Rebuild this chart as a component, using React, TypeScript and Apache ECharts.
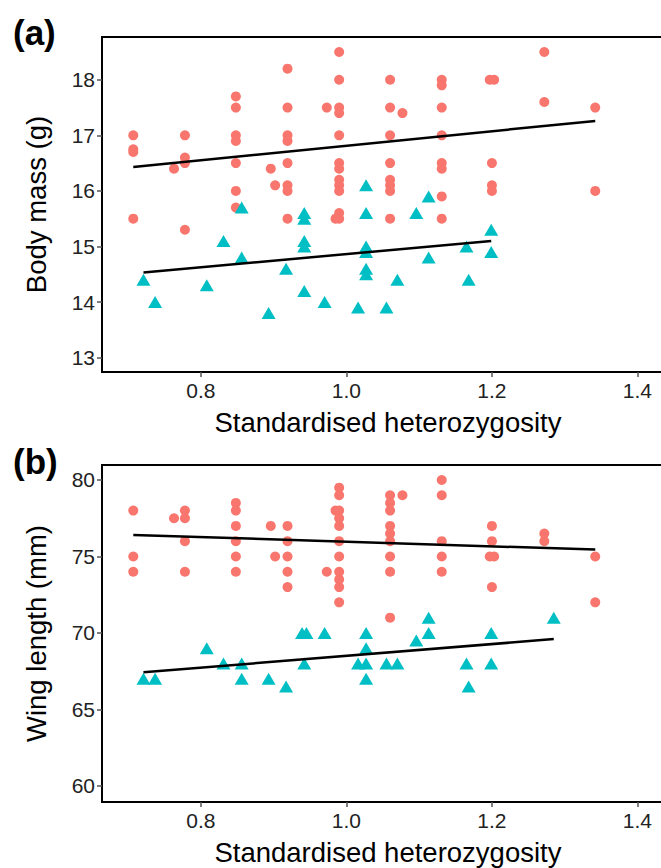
import React, { useEffect, useRef } from "react";
import * as echarts from "echarts";

// ---- data ----
const xTicks = [0.8, 1.0, 1.2, 1.4];
const massTicks = [13, 14, 15, 16, 17, 18];
const wingTicks = [60, 65, 70, 75, 80];

const massRed: number[][] = [
  [0.707, 17.0], [0.707, 16.75], [0.707, 16.7], [0.707, 15.5],
  [0.763, 16.4],
  [0.778, 17.0], [0.778, 16.6], [0.778, 16.5], [0.778, 15.3],
  [0.848, 17.7], [0.848, 17.5], [0.848, 17.0], [0.848, 16.9], [0.848, 16.5], [0.848, 16.0], [0.848, 15.7],
  [0.896, 16.4],
  [0.902, 16.1],
  [0.919, 18.2], [0.919, 17.5], [0.919, 17.0], [0.919, 16.9], [0.919, 16.5], [0.919, 16.1], [0.919, 16.0], [0.919, 15.5],
  [0.973, 17.5],
  [0.99, 18.5], [0.99, 18.0], [0.99, 17.5], [0.99, 17.4], [0.99, 17.0], [0.99, 16.5], [0.99, 16.4], [0.99, 16.2],
  [0.99, 16.1], [0.99, 16.0], [0.99, 15.6], [0.985, 15.5], [0.99, 15.5],
  [1.06, 18.0], [1.06, 17.5], [1.06, 17.0], [1.06, 16.5], [1.06, 16.2], [1.06, 16.1], [1.06, 16.0], [1.06, 15.5],
  [1.077, 17.4],
  [1.131, 18.0], [1.131, 17.9], [1.131, 17.5], [1.131, 17.0], [1.131, 16.5], [1.131, 16.4], [1.131, 15.9], [1.131, 15.5],
  [1.197, 18.0], [1.203, 18.0], [1.2, 16.5], [1.2, 16.1], [1.2, 16.0],
  [1.272, 18.5], [1.272, 17.6],
  [1.342, 17.5], [1.342, 16.0],
];

const massTeal: number[][] = [
  [0.721, 14.4], [0.737, 14.0], [0.808, 14.3], [0.831, 15.1], [0.856, 15.7], [0.856, 14.8], [0.893, 13.8], [0.917, 14.6],
  [0.942, 15.6], [0.942, 15.5], [0.942, 15.1], [0.942, 15.0], [0.942, 14.2],
  [0.97, 14.0], [1.016, 13.9],
  [1.027, 16.1], [1.027, 15.6], [1.027, 15.0], [1.027, 14.9], [1.027, 14.6], [1.027, 14.5],
  [1.055, 13.9], [1.07, 14.4], [1.096, 15.6], [1.113, 15.9], [1.113, 14.8], [1.165, 15.0], [1.168, 14.4],
  [1.199, 15.3], [1.199, 14.9],
];

const wingRed: number[][] = [
  [0.707, 78], [0.707, 75], [0.707, 74],
  [0.763, 77.5],
  [0.778, 78], [0.778, 77.5], [0.778, 76], [0.778, 74],
  [0.848, 78.5], [0.848, 78], [0.848, 77], [0.848, 76], [0.848, 75], [0.848, 74],
  [0.896, 77], [0.902, 75],
  [0.919, 77], [0.919, 76], [0.919, 75], [0.919, 74], [0.919, 73],
  [0.973, 74],
  [0.99, 79.5], [0.99, 79], [0.985, 78], [0.99, 78], [0.99, 77.5], [0.99, 77], [0.99, 76], [0.99, 75], [0.99, 74],
  [0.99, 73.5], [0.99, 73], [0.99, 72],
  [1.06, 79], [1.06, 78.5], [1.06, 78], [1.06, 77], [1.06, 76.5], [1.06, 76], [1.06, 75], [1.06, 74], [1.06, 71],
  [1.077, 79],
  [1.131, 80], [1.131, 79], [1.131, 76], [1.131, 75], [1.131, 74],
  [1.2, 77], [1.2, 76], [1.197, 75], [1.203, 75], [1.2, 73],
  [1.272, 76.5], [1.272, 76],
  [1.342, 75], [1.342, 72],
];

const wingTeal: number[][] = [
  [0.721, 67], [0.737, 67], [0.808, 69], [0.831, 68], [0.856, 68], [0.856, 67], [0.893, 67], [0.917, 66.5],
  [0.939, 70], [0.945, 70], [0.942, 68],
  [0.97, 70], [1.016, 68],
  [1.027, 70], [1.027, 69], [1.027, 68], [1.027, 67],
  [1.055, 68], [1.07, 68], [1.096, 69.5], [1.113, 71], [1.113, 70], [1.165, 68], [1.168, 66.5],
  [1.199, 70], [1.199, 68], [1.285, 71],
];

const massRedFit: number[][] = [[0.707, 16.43], [1.342, 17.26]];
const massTealFit: number[][] = [[0.721, 14.53], [1.199, 15.1]];
const wingRedFit: number[][] = [[0.707, 76.41], [1.342, 75.45]];
const wingTealFit: number[][] = [[0.721, 67.43], [1.285, 69.6]];

const RED = "#F8766D";
const TEAL = "#00BFC4";
const FONT = "Liberation Sans";

export default function App() {
  const ref = useRef<HTMLDivElement>(null);
  useEffect(() => {
    if (!ref.current) return;
    const chart = echarts.init(ref.current, null, { renderer: "svg" });
    const X_MIN = 0.664;
    const X_MAX = 1.45;
    const plotW = (X_MAX - X_MIN) * 727.5;

    const xAxis = (gi: number) => ({
      type: "value",
      gridIndex: gi,
      min: X_MIN,
      max: X_MAX,
      name: "Standardised heterozygosity",
      nameLocation: "middle",
      nameGap: 36,
      nameTextStyle: { fontFamily: FONT, fontSize: 27.5, color: "#000" },
      axisLine: { show: true, onZero: false, lineStyle: { color: "#000", width: 2 } },
      axisTick: { show: true, length: 5, lineStyle: { color: "#555", width: 1.5 }, customValues: xTicks },
      axisLabel: {
        customValues: xTicks,
        formatter: (v: number) => v.toFixed(1),
        fontFamily: FONT,
        fontSize: 21,
        color: "#222",
        margin: 8,
      },
      splitLine: { show: false },
    });

    const yAxis = (gi: number, min: number, max: number, ticks: number[], name: string) => ({
      type: "value",
      gridIndex: gi,
      min,
      max,
      name,
      nameLocation: "middle",
      nameGap: 52,
      nameTextStyle: { fontFamily: FONT, fontSize: 27.5, color: "#000" },
      axisLine: { show: true, onZero: false, lineStyle: { color: "#000", width: 2 } },
      axisTick: { show: true, length: 5, lineStyle: { color: "#555", width: 1.5 }, customValues: ticks },
      axisLabel: {
        customValues: ticks,
        fontFamily: FONT,
        fontSize: 21,
        color: "#222",
        margin: 7,
      },
      splitLine: { show: false },
    });

    const scatter = (data: number[][], gi: number, color: string, tri: boolean) => ({
      type: "scatter",
      xAxisIndex: gi,
      yAxisIndex: gi,
      data,
      symbol: tri ? "triangle" : "circle",
      symbolSize: tri ? [14, 12] : 10,
      itemStyle: { color, opacity: 1 },
      silent: true,
      z: 2,
    });
    const fit = (data: number[][], gi: number) => ({
      type: "line",
      xAxisIndex: gi,
      yAxisIndex: gi,
      data,
      symbol: "none",
      lineStyle: { color: "#000", width: 2.5 },
      silent: true,
      z: 3,
    });

    chart.setOption({
      animation: false,
      backgroundColor: "#fff",
      grid: [
        { left: 102, top: 37, width: plotW, height: 335, show: true, borderColor: "#000", borderWidth: 2 },
        { left: 102, top: 465, width: plotW, height: 337, show: true, borderColor: "#000", borderWidth: 2 },
      ],
      xAxis: [xAxis(0), xAxis(1)],
      yAxis: [
        yAxis(0, 12.74, 18.77, massTicks, "Body mass (g)"),
        yAxis(1, 58.95, 80.98, wingTicks, "Wing length (mm)"),
      ],
      series: [
        scatter(massRed, 0, RED, false),
        scatter(massTeal, 0, TEAL, true),
        fit(massRedFit, 0),
        fit(massTealFit, 0),
        scatter(wingRed, 1, RED, false),
        scatter(wingTeal, 1, TEAL, true),
        fit(wingRedFit, 1),
        fit(wingTealFit, 1),
      ],
      graphic: [
        {
          type: "text",
          left: 13,
          top: 15,
          style: { text: "(a)", fontFamily: FONT, fontWeight: "bold", fontSize: 35, fill: "#000" },
        },
        {
          type: "text",
          left: 13,
          top: 444,
          style: { text: "(b)", fontFamily: FONT, fontWeight: "bold", fontSize: 35, fill: "#000" },
        },
      ],
    });
    return () => chart.dispose();
  }, []);

  return (
    <div style={{ position: "fixed", left: 0, top: 0, width: 661, height: 868, overflow: "hidden", background: "#fff" }}>
      <div ref={ref} style={{ width: 700, height: 868 }} />
    </div>
  );
}
